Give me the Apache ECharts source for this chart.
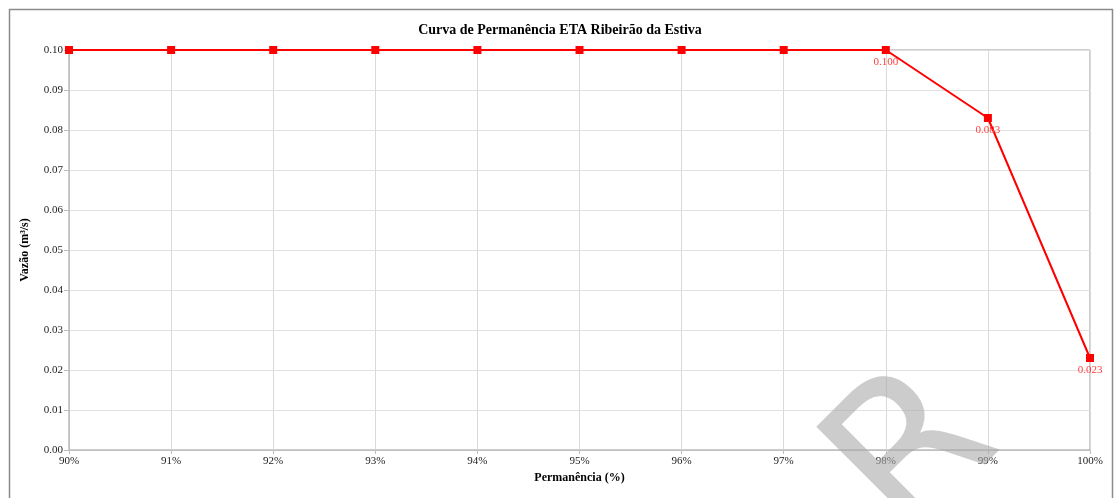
<!DOCTYPE html>
<html>
<head>
<meta charset="utf-8">
<script src="https://cdn.jsdelivr.net/npm/echarts@6/dist/echarts.min.js"></script>
<style>
  html, body { margin: 0; padding: 0; background: #fff; }
  #chart1 { width: 1120px; height: 498px; }
</style>
</head>
<body>
<div id="chart1"></div>
<script>
// Data
var categories = ['90%', '91%', '92%', '93%', '94%', '95%', '96%', '97%', '98%', '99%', '100%'];
var vazao = [0.100, 0.100, 0.100, 0.100, 0.100, 0.100, 0.100, 0.100, 0.100, 0.083, 0.023];
var labeledPoints = ['98%', '99%', '100%'];

var chartDom = document.getElementById('chart1');
var myChart = echarts.init(chartDom);
var option;

var serif = '"Liberation Serif", "DejaVu Serif", serif';

option = {
    backgroundColor: '#fff',
    textStyle: { fontFamily: serif },
    title: {
        text: 'Curva de Permanência ETA Ribeirão da Estiva',
        left: 'center',
        top: 18,
        textStyle: { fontFamily: serif, fontSize: 14, fontWeight: 'bold', color: '#000' }
    },
    graphic: [
        {
            type: 'rect',
            shape: { x: 9.5, y: 9.5, width: 1103, height: 500 },
            style: { fill: 'none', stroke: '#8c8c8c', lineWidth: 1.5 },
            silent: true, z: -1
        },
        {
            // watermark letter
            type: 'text',
            x: 918, y: 458,
            rotation: Math.PI / 4,
            style: {
                text: 'R',
                font: '200px "DejaVu Sans", sans-serif',
                fill: 'rgba(170,170,170,0.6)',
                align: 'center',
                verticalAlign: 'middle'
            },
            silent: true, z: 100
        }
    ],
    grid: {
        left: 69, right: 30, top: 50, bottom: 48,
        show: true, borderColor: '#9a9a9a', borderWidth: 1
    },
    xAxis: {
        type: 'category',
        data: categories,
        boundaryGap: false,
        name: 'Permanência (%)',
        nameLocation: 'middle',
        nameGap: 22,
        nameTextStyle: { fontFamily: serif, fontSize: 12, fontWeight: 'bold', color: '#000' },
        axisLine: { lineStyle: { color: '#bfbfbf' } },
        axisTick: { show: true, alignWithLabel: true, length: 4, lineStyle: { color: '#bfbfbf' } },
        axisLabel: { fontFamily: serif, fontSize: 11, color: '#222', margin: 6 },
        splitLine: { show: true, lineStyle: { color: '#d9d9d9' } }
    },
    yAxis: {
        type: 'value',
        min: 0, max: 0.1, interval: 0.01,
        name: 'Vazão (m³/s)',
        nameLocation: 'middle',
        nameGap: 38,
        nameTextStyle: { fontFamily: serif, fontSize: 12, fontWeight: 'bold', color: '#000' },
        axisLine: { show: true, lineStyle: { color: '#bfbfbf' } },
        axisTick: { show: true, length: 5, lineStyle: { color: '#bfbfbf' } },
        axisLabel: {
            fontFamily: serif, fontSize: 11, color: '#222', margin: 6,
            formatter: function (v) { return v.toFixed(2); }
        },
        splitLine: { show: true, lineStyle: { color: '#e0e0e0' } }
    },
    series: [
        {
            type: 'line',
            data: vazao.map(function (v, i) {
                return {
                    value: v,
                    label: { show: labeledPoints.indexOf(categories[i]) >= 0 }
                };
            }),
            symbol: 'rect',
            symbolSize: 8,
            lineStyle: { color: '#ff0000', width: 2 },
            itemStyle: { color: '#ff0000' },
            label: {
                position: 'bottom',
                distance: 3,
                fontFamily: serif,
                fontSize: 11,
                color: '#ff4040',
                formatter: function (p) { return p.value.toFixed(3); }
            },
            animation: false
        }
    ]
};

option && myChart.setOption(option);
</script>
</body>
</html>
